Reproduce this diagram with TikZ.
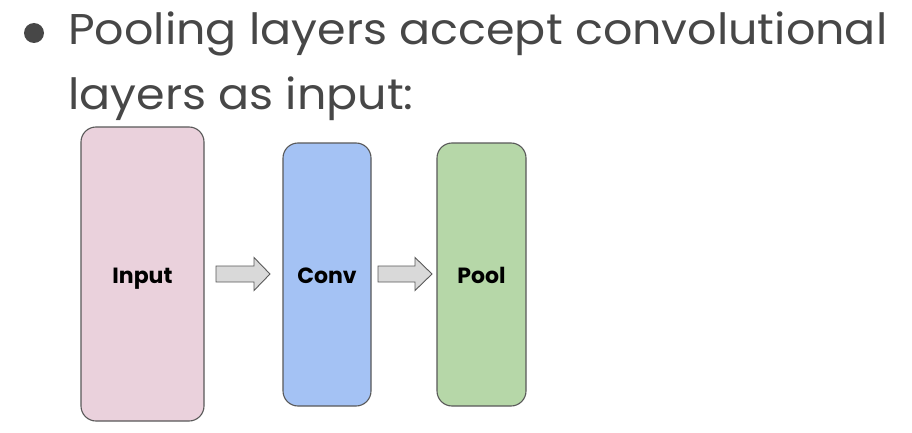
\documentclass[tikz,border=0pt]{standalone}
\usepackage{fontspec}
\setmainfont{Poppins}
\newfontfamily\headfont{Poppins}[FakeStretch=1.07]
\begin{document}
\begin{tikzpicture}[x=1pt,y=1pt,
  layer/.style={draw=black!65,line width=1.1pt,rounded corners=15pt},
  lbl/.style={anchor=base,inner sep=0pt,font=\fontsize{22}{26}\selectfont\bfseries,text=black},
  line/.style={anchor=base west,inner sep=0pt,text=black!72,font=\headfont\fontsize{43}{50}\selectfont},
  arr/.style={draw=black!65,fill=black!15,line width=0.9pt}]
\useasboundingbox (0,0) rectangle (912,432);
\fill[white] (0,0) rectangle (912,432);
\fill[black!72] (34,399) circle (10);
\node[line] (l1) at (68,387) {Pooling layers accept convolutional};
\node[line] (l2) at (68,323) {layers as input:};
\draw[layer,fill={rgb,255:red,234;green,209;blue,220}] (81,11) rectangle (204,305);
\draw[layer,fill={rgb,255:red,164;green,194;blue,244}] (283,26) rectangle (371,289);
\draw[layer,fill={rgb,255:red,182;green,215;blue,168}] (437,26) rectangle (526,289);
\node[lbl] (in) at (142.5,149) {Input};
\node[lbl] (cv) at (327,149) {Conv};
\node[lbl] (pl) at (481.5,149) {Pool};
\coordinate (a1) at (216,158);
\coordinate (a2) at (378,158);
\draw[arr] (a1) ++(0,8) -- ++(38,0) -- ++(0,8.5) -- ++(16,-16.5) -- ++(-16,-16.5) -- ++(0,8.5) -- ++(-38,0) -- cycle;
\draw[arr] (a2) ++(0,8) -- ++(37,0) -- ++(0,8.5) -- ++(17,-16.5) -- ++(-17,-16.5) -- ++(0,8.5) -- ++(-37,0) -- cycle;
\end{tikzpicture}
\end{document}
